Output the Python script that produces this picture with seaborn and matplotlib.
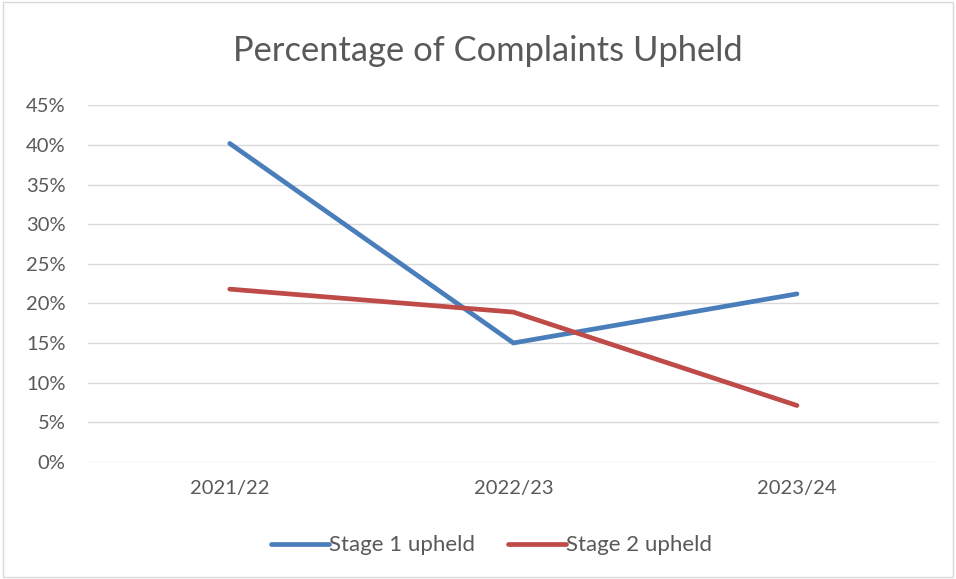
import matplotlib
matplotlib.use("Agg")
import matplotlib.pyplot as plt
import seaborn as sns
import pandas as pd
from matplotlib.patches import Rectangle
from matplotlib.ticker import PercentFormatter

years = ["2021/22", "2022/23", "2023/24"]
stage1 = [40.2, 15.0, 21.2]
stage2 = [21.8, 18.9, 7.1]
series_names = ["Stage 1 upheld", "Stage 2 upheld"]
yticks = [0, 5, 10, 15, 20, 25, 30, 35, 40, 45]

sns.set_theme(style="white")
plt.rcParams['font.family'] = ['Lato', 'DejaVu Sans']

df = pd.DataFrame({
    "pos": list(range(len(years))) * 2,
    "value": stage1 + stage2,
    "series": [series_names[0]] * len(years) + [series_names[1]] * len(years),
})

fig = plt.figure(figsize=(9.56, 5.79), dpi=100)
ax = fig.add_axes([0.092, 0.2026, 0.890, 0.6152])

palette = {series_names[0]: "#4A7EBB", series_names[1]: "#BE4B48"}
sns.lineplot(data=df, x="pos", y="value", hue="series", palette=palette,
             linewidth=3.4, ax=ax, solid_capstyle="round", legend=True)

ax.set_xlim(-0.5, len(years) - 0.5)
ax.set_ylim(0, 45)
ax.set_yticks(yticks)
ax.yaxis.set_major_formatter(PercentFormatter(decimals=0))
ax.set_xticks(range(len(years)))
ax.set_xticklabels(years)
ax.grid(axis="y", color="#D9D9D9", linewidth=1.0)
ax.grid(axis="x", visible=False)
for s in ax.spines.values():
    s.set_visible(False)
ax.tick_params(axis="both", length=0, labelsize=14.5, colors="#595959")
ax.tick_params(axis="y", pad=16)
ax.tick_params(axis="x", pad=13)
ax.set_xlabel("")
ax.set_ylabel("")

fig.text(0.51, 0.912, "Percentage of Complaints Upheld", ha="center", va="center",
         fontsize=24.8, color="#595959")

handles, labels = ax.get_legend_handles_labels()
for h in handles:
    h.set_linewidth(3.4)
ax.legend(handles, labels, loc="center", bbox_to_anchor=(0.514, 0.058),
          bbox_transform=fig.transFigure, ncol=2, frameon=False,
          fontsize=16, labelcolor="#595959", handlelength=2.6,
          handletextpad=0.0, columnspacing=1.5)

fig.patches.append(Rectangle((0.003, 0.003), 0.994, 0.994, transform=fig.transFigure,
                             fill=False, edgecolor="#D9D9D9", linewidth=1.0))

fig.savefig("out.png", dpi=100, facecolor="white")
